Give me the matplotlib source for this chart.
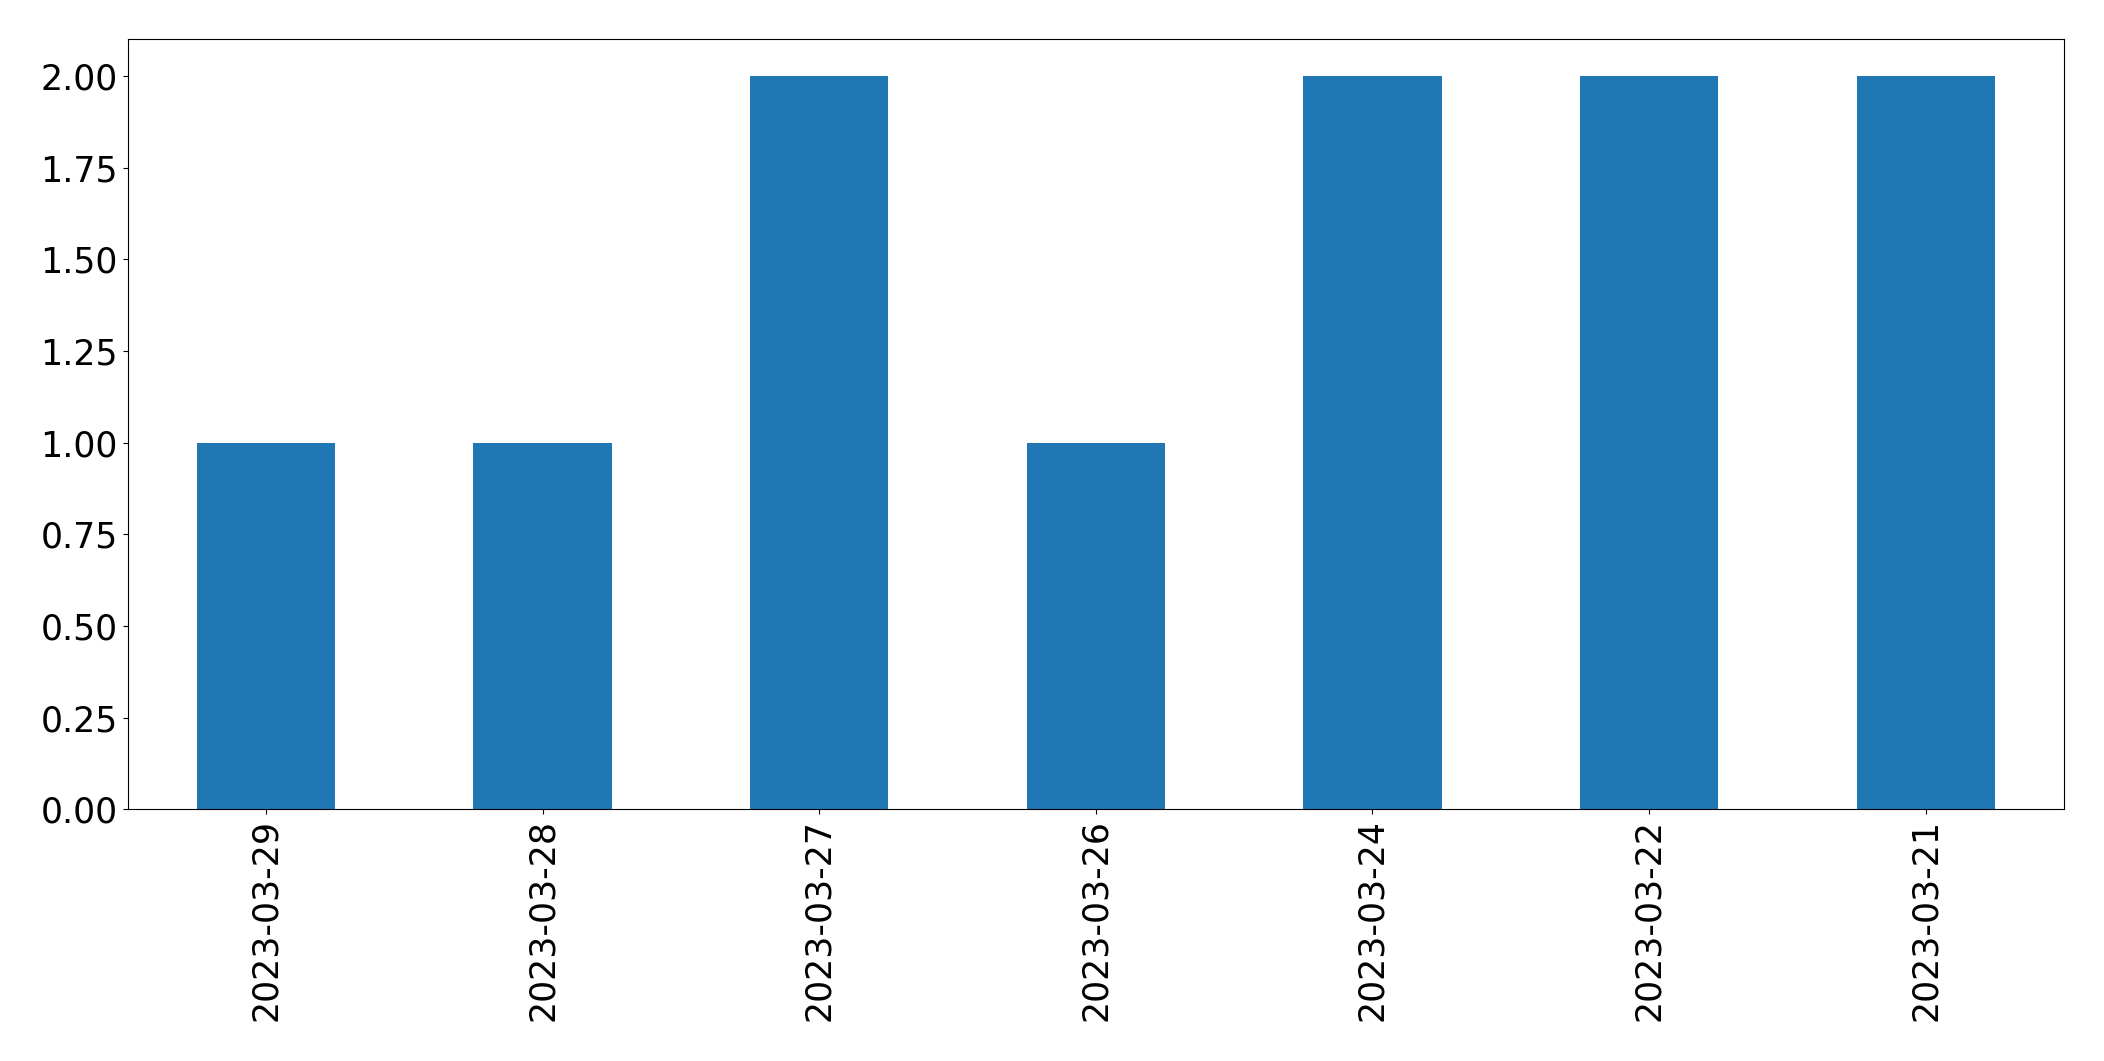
import pandas as pd
import matplotlib.pyplot as plt

# dates and counts as shown on the chart
dates = ['2023-03-29', '2023-03-28', '2023-03-27', '2023-03-26',
         '2023-03-24', '2023-03-22', '2023-03-21']
counts = [1, 1, 2, 1, 2, 2, 2]

s = pd.Series(counts, index=dates)

fig, ax = plt.subplots(figsize=(21.04, 10.61), dpi=100)
s.plot(kind='bar', ax=ax, color='#1f77b4', fontsize=25)
ax.tick_params(axis='both', labelsize=25)

plt.subplots_adjust(left=0.0607, right=0.981, top=0.963, bottom=0.2372)
plt.savefig('out.png', dpi=100)
